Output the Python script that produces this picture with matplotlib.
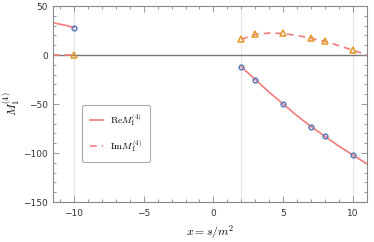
import matplotlib
matplotlib.use("Agg")
import matplotlib.pyplot as plt
from matplotlib.ticker import MultipleLocator

# Data
re_pts_x = [-10, 2, 3, 5, 7, 8, 10]
re_pts_y = [28, -12, -25, -50, -73, -83, -102]
im_pts_x = [-10, 2, 3, 5, 7, 8, 10]
im_pts_y = [0, 16, 21, 22, 17, 14, 5]

re_left_x = [-11.5, -11, -10.5, -10]
re_left_y = [33, 31.5, 30, 28]
im_left_x = [-11.5, -10]
im_left_y = [0, 0]

re_right_x = [2, 3, 4, 5, 6, 7, 8, 9, 10, 11]
re_right_y = [-12, -25, -38, -50, -62, -73, -83, -93, -102, -111]
im_right_x = [2, 3, 4, 5, 6, 7, 8, 9, 10, 11]
im_right_y = [16, 21, 22.5, 22, 20, 17, 14, 9.5, 5, 0]

vlines_x = [-10, 2, 10]
xticks = [-10, -5, 0, 5, 10]
yticks = [50, 0, -50, -100, -150]

plt.rcParams['mathtext.fontset'] = 'cm'
line_col = '#F47C7C'
blue = '#5A7DBF'
orange = '#E49A2A'
frame_col = '#888888'

fig = plt.figure(figsize=(3.74, 2.42), dpi=100)
ax = fig.add_axes([0.1417, 0.165, 0.8393, 0.81])

for xv in vlines_x:
    ax.axvline(xv, color='#E4E4E4', lw=0.8, zorder=0)
ax.axhline(0, color='#777777', lw=1.0, zorder=1)

ax.plot(re_left_x, re_left_y, color=line_col, lw=1.2, zorder=2)
ax.plot(im_left_x, im_left_y, color=line_col, lw=1.2, ls=(0, (4, 3)), zorder=2)
l1, = ax.plot(re_right_x, re_right_y, color=line_col, lw=1.2, zorder=2)
l2, = ax.plot(im_right_x, im_right_y, color=line_col, lw=1.2, ls=(0, (4, 3)), zorder=2)

ax.plot(re_pts_x, re_pts_y, 'o', ms=3.4, mfc='none', mec=blue, mew=1.1, zorder=3)
ax.plot(im_pts_x, im_pts_y, '^', ms=4.0, mfc='none', mec=orange, mew=1.1, zorder=3)

ax.set_xlim(-11.5, 11)
ax.set_ylim(-150, 50)
ax.set_xticks(xticks)
ax.set_yticks(yticks)
ax.set_xticklabels(['\u2212' + str(abs(t)) if t < 0 else str(t) for t in xticks])
ax.set_yticklabels(['\u2212' + str(abs(t)) if t < 0 else str(t) for t in yticks])
ax.xaxis.set_minor_locator(MultipleLocator(1))
ax.yaxis.set_minor_locator(MultipleLocator(10))
ax.tick_params(which='both', direction='in', top=True, right=True, color=frame_col,
               labelsize=6.5, labelcolor='#333333', width=0.6)
ax.tick_params(which='major', length=4)
ax.tick_params(which='minor', length=2)
ax.tick_params(axis='x', pad=5)
for s in ax.spines.values():
    s.set_color(frame_col)
    s.set_linewidth(0.8)

ax.set_xlabel(r'$x = s/m^2$', fontsize=8.5, labelpad=4)
ax.set_ylabel(r'$M_1^{(4)}$', fontsize=8.5, labelpad=0)

leg = ax.legend([l1, l2], [r'$\mathrm{Re}M_1^{(4)}$', r'$\mathrm{Im}M_1^{(4)}$'],
                loc='upper left', bbox_to_anchor=(0.092, 0.497), fontsize=7,
                handlelength=1.4, labelspacing=1.0, borderpad=0.8, handletextpad=0.7,
                borderaxespad=0, fancybox=True, framealpha=1, edgecolor='#AAAAAA')
leg.get_frame().set_linewidth(0.8)

fig.savefig('out.png', dpi=100)
